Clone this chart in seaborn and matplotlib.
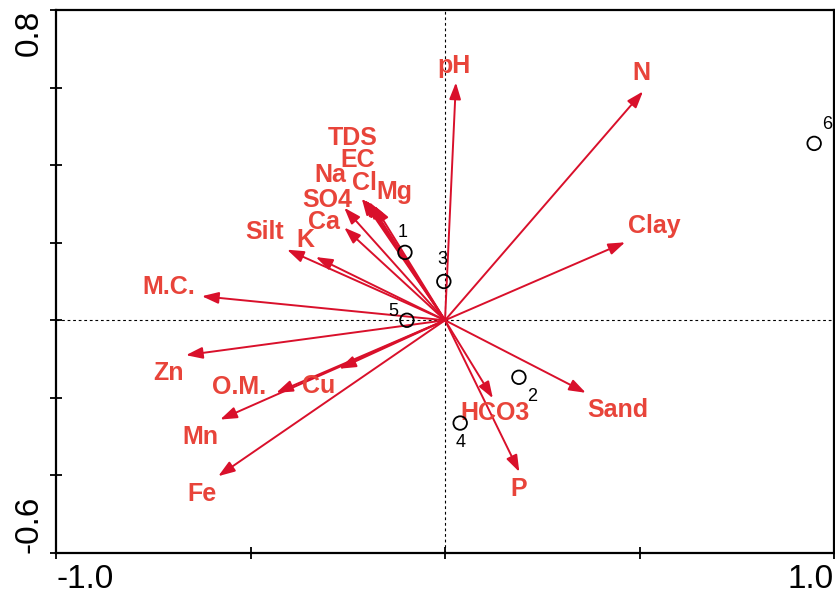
import numpy as np
import matplotlib as mpl
mpl.use('Agg')

import matplotlib.pyplot as plt
import seaborn as sns
import pandas as pd

# Environmental variables (arrow tips, biplot scores)
variables = ['pH', 'N', 'Clay', 'Sand', 'P', 'HCO3', 'Fe', 'Mn', 'O.M.', 'Cu',
             'Zn', 'M.C.', 'Silt', 'K', 'Ca', 'SO4', 'TDS', 'EC', 'Na', 'Cl', 'Mg']
var_x = [0.028, 0.509, 0.463, 0.362, 0.191, 0.123, -0.583, -0.578, -0.434, -0.272,
         -0.666, -0.625, -0.406, -0.332, -0.259, -0.259, -0.214, -0.207, -0.203, -0.195, -0.182]
var_y = [0.613, 0.590, 0.201, -0.187, -0.391, -0.201, -0.402, -0.256, -0.187, -0.125,
         -0.090, 0.062, 0.182, 0.163, 0.239, 0.290, 0.314, 0.311, 0.309, 0.305, 0.296]

# where the variable names sit
label_x = [0.023, 0.506, 0.537, 0.445, 0.190, 0.129, -0.625, -0.630, -0.530, -0.326,
           -0.712, -0.710, -0.464, -0.360, -0.310, -0.304, -0.237, -0.224, -0.296, -0.207, -0.131]
label_y = [0.655, 0.637, 0.242, -0.232, -0.436, -0.240, -0.448, -0.302, -0.173, -0.170,
           -0.137, 0.085, 0.228, 0.206, 0.253, 0.309, 0.469, 0.412, 0.374, 0.353, 0.330]

# Sites
sites = ['1', '2', '3', '4', '5', '6']
site_x = [-0.103, 0.190, -0.003, 0.039, -0.098, 0.949]
site_y = [0.175, -0.147, 0.100, -0.265, 0.000, 0.456]
site_lab_dx = [-0.005, 0.033, -0.003, 0.000, -0.036, 0.033]
site_lab_dy = [0.052, -0.050, 0.057, -0.050, 0.022, 0.050]

arrow_col = '#d9102b'
text_col = '#e8443a'

sns.set_style("white")
plt.rcParams['font.family'] = ['Liberation Sans', 'DejaVu Sans']

fig = plt.figure(figsize=(8.35, 6.01), dpi=100)
ax = fig.add_axes([0.0671, 0.0799, 0.9317, 0.9035])

ax.axhline(0, color='black', lw=0.8, ls=(0, (2.5, 2.5)), zorder=1)
ax.axvline(0, color='black', lw=0.8, ls=(0, (2.5, 2.5)), zorder=1)

for name, x, y, lx, ly in zip(variables, var_x, var_y, label_x, label_y):
    ax.annotate('', xy=(x, y), xytext=(0, 0),
                arrowprops=dict(arrowstyle='-|>,head_length=1.0,head_width=0.35',
                                color=arrow_col, lw=1.4, shrinkA=0, shrinkB=0),
                zorder=3)
    ax.text(lx, ly, name, color=text_col, fontsize=18, fontweight='bold',
            ha='center', va='center', zorder=4)

df_sites = pd.DataFrame({'x': site_x, 'y': site_y, 'site': sites})
sns.scatterplot(data=df_sites, x='x', y='y', ax=ax, s=95, marker='o',
                facecolor='none', edgecolor='black', linewidth=1.3, zorder=5)
for s, x, y, dx, dy in zip(sites, site_x, site_y, site_lab_dx, site_lab_dy):
    ax.text(x + dx, y + dy, s, color='black', fontsize=13, ha='center', va='center')

ax.set_xlim(-1.0, 1.0)
ax.set_ylim(-0.6, 0.8)
ax.set_xlabel('')
ax.set_ylabel('')

ax.set_xticks([-1.0, -0.5, 0.0, 0.5, 1.0])
ax.set_xticklabels(['-1.0', '', '', '', '1.0'])
ax.set_yticks([-0.6, -0.4, -0.2, 0.0, 0.2, 0.4, 0.6, 0.8])
ax.set_yticklabels(['-0.6', '', '', '', '', '', '', '0.8'], rotation=90)
ax.tick_params(bottom=True, left=True, top=False, right=False,
               direction='inout', length=8, width=1.3, labelsize=24, pad=4, colors='black')
xl = ax.get_xticklabels()
xl[0].set_ha('left')
xl[-1].set_ha('right')
yl = ax.get_yticklabels()
yl[0].set_va('bottom')
yl[-1].set_va('top')

for sp in ax.spines.values():
    sp.set_visible(True)
    sp.set_color('black')
    sp.set_linewidth(1.6)

plt.savefig('out.png', dpi=100)
plt.close()
